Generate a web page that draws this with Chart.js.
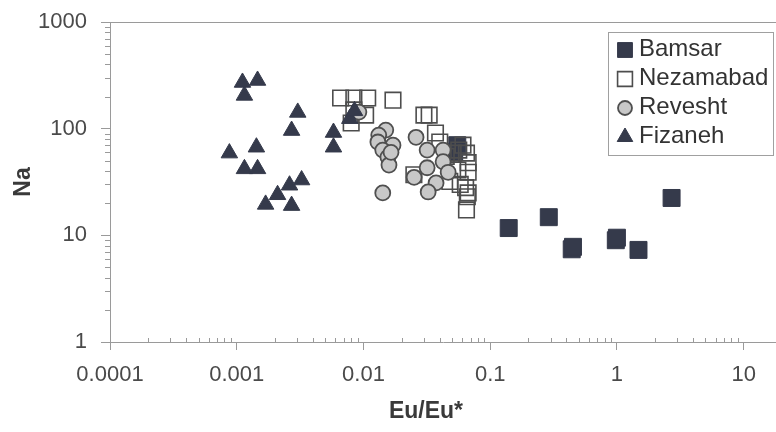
<!DOCTYPE html>
<html>
<head>
<meta charset="utf-8">
<script src="https://cdn.jsdelivr.net/npm/chart.js@4.4.1/dist/chart.umd.min.js"></script>
<style>
  html, body { margin: 0; padding: 0; background: #fff; }
  #wrap { width: 776px; height: 432px; }
</style>
</head>
<body>
<div id="wrap"><canvas id="c" width="776" height="432"></canvas></div>
<script>
// data (Eu/Eu* vs Na)
const seriesNames = ['Bamsar', 'Nezamabad', 'Revesht', 'Fizaneh'];

const bamsarX = [0.14, 0.29, 0.44, 0.45, 0.98, 1.0, 1.48, 2.7, 0.055, 0.052];
const bamsarY = [11.7, 14.8, 7.4, 7.8, 9.0, 9.5, 7.3, 22.4, 70, 60];

const nezamabadX = [0.0066, 0.0084, 0.0108, 0.0171, 0.0084, 0.0104, 0.0080, 0.030, 0.033, 0.037,
  0.061, 0.0565, 0.051, 0.065, 0.067, 0.0556, 0.067, 0.064, 0.067, 0.065, 0.048, 0.066, 0.025, 0.040, 0.058, 0.045];
const nezamabadY = [194, 194, 194, 185, 150, 134, 113, 134, 134, 91,
  70, 63, 59, 59, 48, 41, 39, 28, 25, 17.3, 32, 23, 37, 75, 30, 55];

const reveshtX = [0.0092, 0.0150, 0.0132, 0.0130, 0.0171, 0.0142, 0.0156, 0.0159, 0.0142, 0.0165,
  0.026, 0.0318, 0.0425, 0.0425, 0.0318, 0.0466, 0.0251, 0.0374, 0.0324];
const reveshtY = [143, 97, 87, 75, 70, 63, 54, 45.6, 25, 60,
  83, 63, 63, 49, 43, 39, 35, 31, 25.5];

const fizanehX = [0.00111, 0.00146, 0.00115, 0.00303, 0.00271, 0.000875, 0.00143, 0.00115, 0.00146,
  0.00325, 0.00261, 0.0021, 0.00169, 0.00271, 0.0058, 0.0058, 0.0078, 0.0085];
const fizanehY = [271, 283, 205, 142, 96, 59, 67, 42, 42,
  33, 29.5, 24, 19.5, 19, 92, 67, 124, 147];

const xTicks = [0.0001, 0.001, 0.01, 0.1, 1, 10];
const yTicks = [1, 10, 100, 1000];
const xTitle = 'Eu/Eu*';
const yTitle = 'Na';

const pts = (xs, ys) => xs.map((x, i) => ({ x: x, y: ys[i] }));

const dark = '#353a4b';
const axisGrey = '#9a9a9a';
const textGrey = '#4a4a4a';
const titleFont = { family: '"Liberation Sans", Arial, sans-serif', size: 23, weight: 'bold' };

const datasets = [
  { label: seriesNames[0], data: pts(bamsarX, bamsarY), pointStyle: 'rect', pointRadius: 12,
    backgroundColor: dark, borderColor: dark, borderWidth: 1, order: 3 },
  { label: seriesNames[1], data: pts(nezamabadX, nezamabadY), pointStyle: 'rect', pointRadius: 11,
    backgroundColor: 'rgba(255,255,255,0)', borderColor: '#4d4d4d', borderWidth: 1.6, order: 2 },
  { label: seriesNames[2], data: pts(reveshtX, reveshtY), pointStyle: 'circle', pointRadius: 7.5,
    backgroundColor: '#c8c8c8', borderColor: '#4f4f4f', borderWidth: 1.8, order: 1 },
  { label: seriesNames[3], data: pts(fizanehX, fizanehY), pointStyle: 'triangle', pointRadius: 9.5,
    backgroundColor: dark, borderColor: dark, borderWidth: 1, order: 0 }
];

// minor log ticks, top frame line, x title and the boxed legend
const extras = {
  id: 'extras',
  afterDraw(chart) {
    const { ctx, chartArea: a, scales: { x, y } } = chart;
    ctx.save();
    ctx.strokeStyle = axisGrey;
    ctx.lineWidth = 1;
    ctx.beginPath();
    ctx.moveTo(a.left, a.top + 0.5);
    ctx.lineTo(a.right, a.top + 0.5);
    for (let d = -4; d <= 1; d++) {
      for (let k = 2; k <= 9; k++) {
        const v = k * Math.pow(10, d);
        if (v > x.max) break;
        const px = Math.round(x.getPixelForValue(v)) + 0.5;
        ctx.moveTo(px, a.bottom - 4);
        ctx.lineTo(px, a.bottom + 1);
      }
    }
    for (let d = 0; d < 3; d++) {
      for (let k = 2; k <= 9; k++) {
        const py = Math.round(y.getPixelForValue(k * Math.pow(10, d))) + 0.5;
        ctx.moveTo(a.left - 5, py);
        ctx.lineTo(a.left, py);
      }
    }
    ctx.stroke();

    // x axis title sits a bit left of the plot centre in the original
    ctx.font = 'bold 23px "Liberation Sans", Arial, sans-serif';
    ctx.fillStyle = '#3a3a3a';
    ctx.textAlign = 'center';
    ctx.textBaseline = 'middle';
    ctx.fillText(xTitle, 426, 412);

    // legend
    const lx = 608, ly = 32, lw = 165, lh = 123;
    ctx.fillStyle = '#fff';
    ctx.fillRect(lx, ly, lw, lh);
    ctx.strokeStyle = '#a0a0a0';
    ctx.strokeRect(lx + 0.5, ly + 0.5, lw, lh);
    ctx.font = '24px "Liberation Sans", Arial, sans-serif';
    ctx.textAlign = 'left';
    const sizes = [10.5, 10.5, 7, 9];
    datasets.forEach((ds, i) => {
      const cy = 49 + i * 29;
      ctx.fillStyle = ds.backgroundColor;
      ctx.strokeStyle = ds.borderColor;
      ctx.lineWidth = ds.borderWidth;
      Chart.helpers.drawPoint(ctx, { pointStyle: ds.pointStyle, radius: sizes[i], rotation: 0, borderWidth: ds.borderWidth }, 625, cy + 1);
      ctx.fillStyle = '#333';
      ctx.fillText(ds.label, 639, cy);
    });
    ctx.restore();
  }
};

new Chart(document.getElementById('c'), {
  type: 'scatter',
  data: { datasets: datasets },
  options: {
    responsive: false,
    animation: false,
    events: [],
    layout: { autoPadding: false, padding: { top: 22, right: 0, bottom: 0, left: 0 } },
    plugins: { legend: { display: false }, tooltip: { enabled: false } },
    scales: {
      x: {
        type: 'logarithmic',
        min: 0.0001,
        max: 18,
        afterBuildTicks: (s) => { s.ticks = xTicks.map(v => ({ value: v })); },
        afterFit: (s) => { s.height = 90; s.paddingLeft = 0; s.paddingRight = 0; },
        border: { display: true, color: axisGrey },
        grid: { drawOnChartArea: false, drawTicks: true, tickLength: 8, color: axisGrey },
        ticks: {
          padding: 12, color: textGrey, maxRotation: 0,
          font: { family: '"Liberation Sans", Arial, sans-serif', size: 22 },
          callback: (v) => String(v)
        },
        title: { display: false }
      },
      y: {
        type: 'logarithmic',
        min: 1,
        max: 1000,
        afterBuildTicks: (s) => { s.ticks = yTicks.map(v => ({ value: v })); },
        afterFit: (s) => { s.width = 110; s.paddingTop = 0; s.paddingBottom = 0; },
        border: { display: true, color: axisGrey },
        grid: { drawOnChartArea: false, drawTicks: true, tickLength: 9, color: axisGrey },
        ticks: {
          padding: 14, color: textGrey,
          font: { family: '"Liberation Sans", Arial, sans-serif', size: 22 },
          callback: (v) => String(v)
        },
        title: {
          display: true, text: yTitle, color: '#3a3a3a',
          font: titleFont,
          padding: { top: 10, bottom: 0 }
        }
      }
    }
  },
  plugins: [extras]
});
</script>
</body>
</html>
